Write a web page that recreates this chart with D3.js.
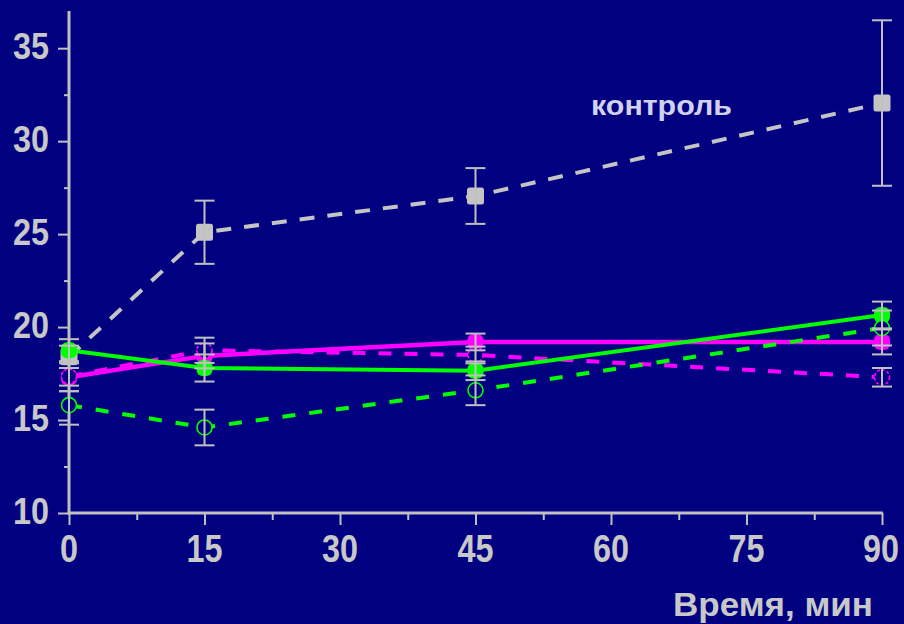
<!DOCTYPE html>
<html>
<head>
<meta charset="utf-8">
<script src="https://cdn.jsdelivr.net/npm/d3@7"></script>
<style>
  html, body { margin: 0; padding: 0; background: #000080; }
  svg { display: block; }
</style>
</head>
<body>
<svg id="chart" width="904" height="624"></svg>
<script>
// Time points (min)
const times = [0, 15, 45, 90];

// Control group
const controlMean = [18.4, 25.1, 27.05, 32.05];
const controlErr  = [0.6, 1.7, 1.5, 4.45];

// Magenta, solid line, filled circles
const magentaSolidMean = [17.3, 18.45, 19.2, 19.2];
const magentaSolidErr  = [0.75, 0.67, 0.45, 0.67];

// Magenta, dashed line, open circles
const magentaDashMean = [17.35, 18.75, 18.5, 17.3];
const magentaDashErr  = [0.8, 0.68, 0.45, 0.5];

// Green, solid line, filled circles
const greenSolidMean = [18.75, 17.8, 17.65, 20.65];
const greenSolidErr  = [0.6, 0.73, 0.5, 0.72];

// Green, dashed line, open circles
const greenDashMean = [15.8, 14.6, 16.6, 19.95];
const greenDashErr  = [1.05, 0.96, 0.8, 0.94];

// Axis ticks
const xTicks = [0, 15, 30, 45, 60, 75, 90];
const xMinorTicks = [7.5, 22.5, 37.5, 52.5, 67.5, 82.5];
const yTicks = [10, 15, 20, 25, 30, 35];
const yMinorTicks = [12.5, 17.5, 22.5, 27.5, 32.5];

const xTitle = "Время, мин";
const controlLabel = "контроль";

const BG = "#000080";
const AXIS = "#c0c0c0";
const LABEL = "#c8c8c8";
const GRAY = "#c4c4c4";
const MAGENTA = "#ff00ff";
const GREEN = "#00ff00";

const svg = d3.select("#chart");

const x = d3.scaleLinear().domain([0, 90]).range([69, 882]);
const y = d3.scaleLinear().domain([10, 37]).range([513, 11]);

// Line layers: control at the bottom, then magenta, then green
const series = [
  { mean: controlMean, err: controlErr, color: GRAY, dash: "15,13", marker: "square" },
  { mean: magentaDashMean, err: magentaDashErr, color: MAGENTA, dash: "13,13", marker: "open", dotted: true },
  { mean: magentaSolidMean, err: magentaSolidErr, color: MAGENTA, dash: null, marker: "filled", width: 4.5 },
  { mean: greenDashMean, err: greenDashErr, color: GREEN, dash: "13,14", marker: "open" },
  { mean: greenSolidMean, err: greenSolidErr, color: GREEN, dash: null, marker: "filled" }
];
// Marker layers: squares, filled markers, then open markers (background-filled) on top
const markerOrder = { square: 0, filled: 1, open: 2 };

// Axes
const yAxis = d3.axisLeft(y).tickValues(yTicks).tickSize(11).tickFormat("");
const yAxisMinor = d3.axisLeft(y).tickValues(yMinorTicks).tickSize(5).tickFormat("");
const xAxis = d3.axisBottom(x).tickValues(xTicks).tickSize(12).tickFormat("");
const xAxisMinor = d3.axisBottom(x).tickValues(xMinorTicks).tickSize(7).tickFormat("");

function styleAxis(g) {
  g.select(".domain").remove();
  g.selectAll(".tick line").attr("stroke", AXIS).attr("stroke-width", 2);
}

svg.append("g").attr("transform", "translate(69,0)").call(yAxis).call(styleAxis);
svg.append("g").attr("transform", "translate(69,0)").call(yAxisMinor).call(styleAxis);
svg.append("g").attr("transform", "translate(0,513)").call(xAxis).call(styleAxis);
svg.append("g").attr("transform", "translate(0,513)").call(xAxisMinor).call(styleAxis);

// Axis lines
svg.append("line")
  .attr("x1", x(0)).attr("x2", x(0))
  .attr("y1", y(37)).attr("y2", y(10) + 1.5)
  .attr("stroke", AXIS).attr("stroke-width", 3);
svg.append("line")
  .attr("x1", x(0) - 1.5).attr("x2", x(90) + 1)
  .attr("y1", y(10)).attr("y2", y(10))
  .attr("stroke", AXIS).attr("stroke-width", 3);

// Tick labels
const tickFont = "'Liberation Sans', Arial, sans-serif";
svg.append("g").selectAll("text").data(yTicks).join("text")
  .attr("x", 49).attr("y", d => y(d) + 10.5)
  .attr("text-anchor", "end")
  .attr("font-family", tickFont).attr("font-weight", "bold").attr("font-size", 37)
  .attr("textLength", d => String(d).length * 18)
  .attr("lengthAdjust", "spacingAndGlyphs")
  .attr("fill", LABEL)
  .text(d => d);

svg.append("g").selectAll("text").data(xTicks).join("text")
  .attr("x", d => Math.min(x(d), 881)).attr("y", 562)
  .attr("text-anchor", "middle")
  .attr("font-family", tickFont).attr("font-weight", "bold").attr("font-size", 38)
  .attr("textLength", d => String(d).length * 18)
  .attr("lengthAdjust", "spacingAndGlyphs")
  .attr("fill", LABEL)
  .text(d => d);

svg.append("text")
  .attr("x", 673).attr("y", 616)
  .attr("font-family", tickFont).attr("font-weight", "bold").attr("font-size", 33)
  .attr("textLength", 200).attr("lengthAdjust", "spacingAndGlyphs")
  .attr("fill", LABEL)
  .text(xTitle);

svg.append("text")
  .attr("x", 591).attr("y", 115)
  .attr("font-family", tickFont).attr("font-weight", "bold").attr("font-size", 27)
  .attr("textLength", 141).attr("lengthAdjust", "spacingAndGlyphs")
  .attr("fill", "#d2d2f0")
  .text(controlLabel);

// Lines
const line = d3.line().x((d, i) => x(times[i])).y(d => y(d));
const linesG = svg.append("g");
series.forEach(s => {
  linesG.append("path")
    .attr("d", line(s.mean))
    .attr("fill", "none")
    .attr("stroke", s.color)
    .attr("stroke-width", s.width || 4)
    .attr("stroke-dasharray", s.dash)
    .attr("stroke-linecap", "butt");
});

// Markers
const markersG = svg.append("g");
series.slice()
  .sort((a, b) => markerOrder[a.marker] - markerOrder[b.marker])
  .forEach(s => {
    const pts = s.mean.map((v, i) => ({ t: times[i], v }));
    if (s.marker === "square") {
      markersG.selectAll(null).data(pts).join("rect")
        .attr("x", d => x(d.t) - 8.5).attr("y", d => y(d.v) - 8.5)
        .attr("width", 17).attr("height", 17)
        .attr("rx", 2.5)
        .attr("fill", s.color);
    } else if (s.marker === "filled") {
      markersG.selectAll(null).data(pts).join("rect")
        .attr("x", d => x(d.t) - 8).attr("y", d => y(d.v) - 8)
        .attr("width", 16).attr("height", 16)
        .attr("rx", 6)
        .attr("fill", s.color);
    } else {
      markersG.selectAll(null).data(pts).join("circle")
        .attr("cx", d => x(d.t)).attr("cy", d => y(d.v))
        .attr("r", 7.5)
        .attr("fill", BG)
        .attr("stroke", s.color)
        .attr("stroke-width", 1.6)
        .attr("stroke-dasharray", s.dotted ? "3,2" : null);
    }
  });

// Error bars
const errG = svg.append("g").attr("stroke", AXIS).attr("stroke-width", 2);
series.forEach(s => {
  s.mean.forEach((v, i) => {
    const cx = x(times[i]);
    const top = y(v + s.err[i]);
    const bot = y(v - s.err[i]);
    errG.append("line").attr("x1", cx).attr("x2", cx).attr("y1", top).attr("y2", bot);
    errG.append("line").attr("x1", cx - 10).attr("x2", cx + 10).attr("y1", top).attr("y2", top);
    errG.append("line").attr("x1", cx - 10).attr("x2", cx + 10).attr("y1", bot).attr("y2", bot);
  });
});
</script>
</body>
</html>
